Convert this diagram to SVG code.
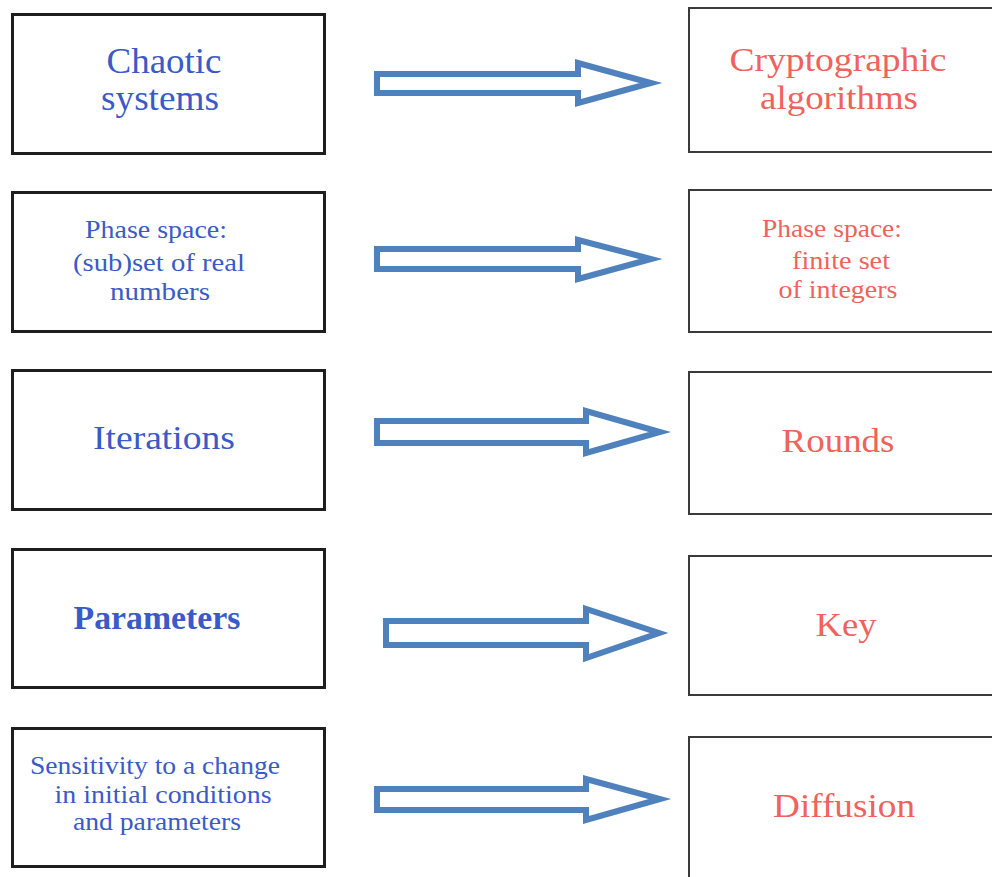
<svg xmlns="http://www.w3.org/2000/svg" width="992" height="877" viewBox="0 0 992 877">
  <style>
    .src rect { fill: #ffffff; stroke: #1e1e1e; stroke-width: 3; }
    .dst rect { fill: #ffffff; stroke: #3a3a3a; stroke-width: 2; }
    .src text { font-family: "Liberation Serif", "DejaVu Serif", serif; fill: #3a5ac8; }
    .dst text { font-family: "Liberation Serif", "DejaVu Serif", serif; fill: #f0625c; }
    .arrow { fill: #ffffff; stroke: #4f81bd; stroke-width: 6; stroke-linejoin: miter; }
  </style>
  <rect x="0" y="0" width="992" height="877" fill="#ffffff"/>

  <!-- chaotic-system side -->
  <g id="chaotic-systems" class="src">
    <rect x="12.5" y="14.5" width="312" height="139"/>
    <text x="164" y="73" font-size="35" text-anchor="middle" textLength="115" lengthAdjust="spacingAndGlyphs">Chaotic</text>
    <text x="160" y="110" font-size="35" text-anchor="middle" textLength="118" lengthAdjust="spacingAndGlyphs">systems</text>
  </g>
  <g id="phase-space-real" class="src">
    <rect x="12.5" y="192.5" width="312" height="139"/>
    <text x="156" y="238" font-size="26" text-anchor="middle" textLength="142" lengthAdjust="spacingAndGlyphs">Phase space:</text>
    <text x="159" y="271" font-size="26" text-anchor="middle" textLength="172" lengthAdjust="spacingAndGlyphs">(sub)set of real</text>
    <text x="160" y="300" font-size="26" text-anchor="middle" textLength="100" lengthAdjust="spacingAndGlyphs">numbers</text>
  </g>
  <g id="iterations" class="src">
    <rect x="12.5" y="370.5" width="312" height="139"/>
    <text x="164" y="449" font-size="34" text-anchor="middle" textLength="142" lengthAdjust="spacingAndGlyphs">Iterations</text>
  </g>
  <g id="parameters" class="src">
    <rect x="12.5" y="549.5" width="312" height="138"/>
    <text x="157" y="629" font-size="33" font-weight="bold" text-anchor="middle" textLength="167" lengthAdjust="spacingAndGlyphs">Parameters</text>
  </g>
  <g id="sensitivity" class="src">
    <rect x="12.5" y="728.5" width="312" height="138"/>
    <text x="155" y="774" font-size="25" text-anchor="middle" textLength="250" lengthAdjust="spacingAndGlyphs">Sensitivity to a change</text>
    <text x="163" y="803" font-size="25" text-anchor="middle" textLength="217" lengthAdjust="spacingAndGlyphs">in initial conditions</text>
    <text x="157" y="830" font-size="25" text-anchor="middle" textLength="168" lengthAdjust="spacingAndGlyphs">and parameters</text>
  </g>

  <!-- cryptographic side -->
  <g id="cryptographic-algorithms" class="dst">
    <rect x="689" y="8" width="320" height="144"/>
    <text x="838" y="71" font-size="33" text-anchor="middle" textLength="217" lengthAdjust="spacingAndGlyphs">Cryptographic</text>
    <text x="839" y="109" font-size="33" text-anchor="middle" textLength="158" lengthAdjust="spacingAndGlyphs">algorithms</text>
  </g>
  <g id="phase-space-integers" class="dst">
    <rect x="689" y="190" width="320" height="142"/>
    <text x="832" y="237" font-size="25" text-anchor="middle" textLength="140" lengthAdjust="spacingAndGlyphs">Phase space:</text>
    <text x="841" y="269" font-size="25" text-anchor="middle" textLength="98" lengthAdjust="spacingAndGlyphs">finite set</text>
    <text x="838" y="298" font-size="25" text-anchor="middle" textLength="119" lengthAdjust="spacingAndGlyphs">of integers</text>
  </g>
  <g id="rounds" class="dst">
    <rect x="689" y="372" width="320" height="142"/>
    <text x="838" y="452" font-size="34" text-anchor="middle" textLength="113" lengthAdjust="spacingAndGlyphs">Rounds</text>
  </g>
  <g id="key" class="dst">
    <rect x="689" y="556" width="320" height="139"/>
    <text x="846" y="636" font-size="34" text-anchor="middle" textLength="61" lengthAdjust="spacingAndGlyphs">Key</text>
  </g>
  <g id="diffusion" class="dst">
    <rect x="689" y="737" width="320" height="150"/>
    <text x="844" y="817" font-size="34" text-anchor="middle" textLength="142" lengthAdjust="spacingAndGlyphs">Diffusion</text>
  </g>

  <!-- block arrows mapping each concept to its counterpart -->
  <g id="connectors">
    <polygon class="arrow" points="377,74 578,74 578,63 651,83 578,103 578,93 377,93"/>
    <polygon class="arrow" points="377,249 578,249 578,240 651,259 578,279 578,269 377,269"/>
    <polygon class="arrow" points="377,421 586,421 586,411 660,432 586,453 586,443 377,443"/>
    <polygon class="arrow" points="386,621 586,621 586,609 659,633 586,658 586,645 386,645"/>
    <polygon class="arrow" points="377,789 586,789 586,779 660,799 586,820 586,810 377,810"/>
  </g>
</svg>
